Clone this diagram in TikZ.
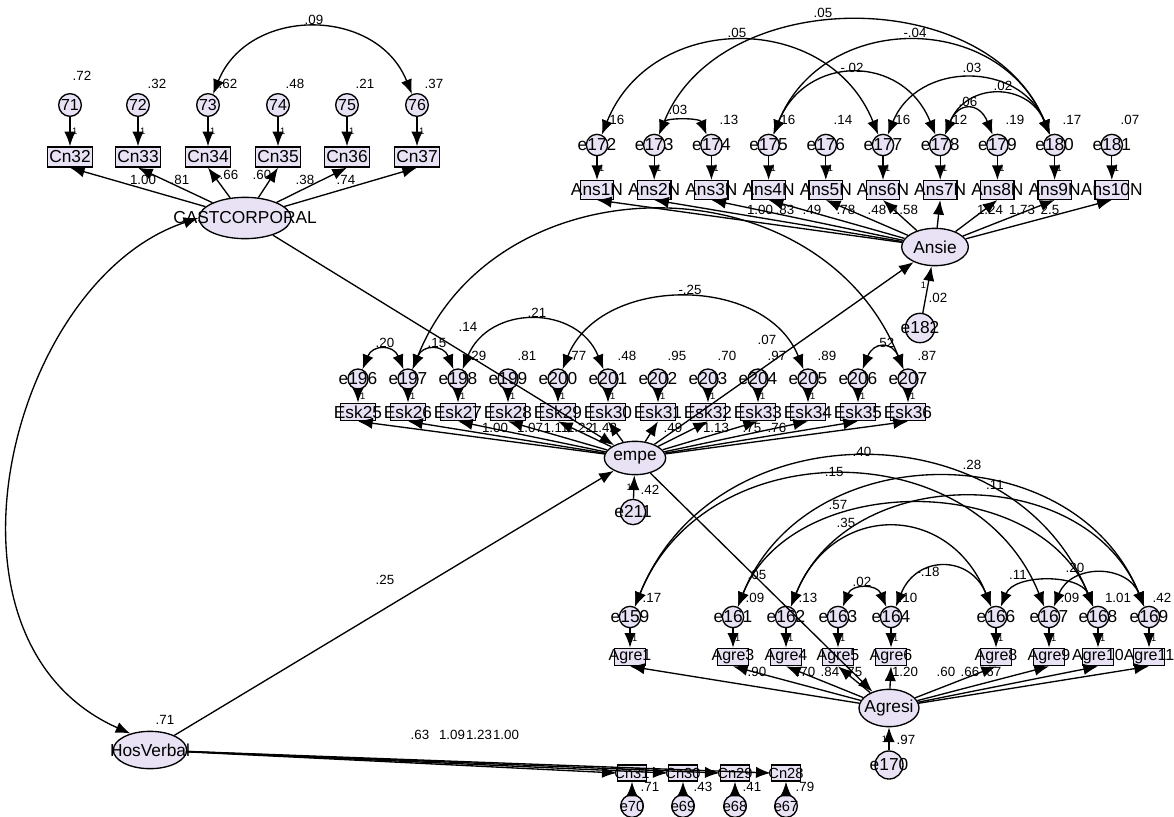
\documentclass[tikz,border=0pt]{standalone}
\usepackage{fontspec}
\setmainfont{Liberation Sans}
\usetikzlibrary{arrows.meta,shapes.geometric}
\definecolor{amos}{RGB}{232,226,244}
\newcommand{\nmfont}{\fontsize{13}{13}\selectfont}
\newcommand{\numfont}{\fontsize{10}{10}\selectfont}
\newcommand{\onefont}{\fontsize{7}{7}\selectfont}
\newcommand{\ov}[1]{\makebox[0pt]{#1}}
\tikzstyle{latent} = [draw,ellipse,fill=amos,line width=1pt,inner sep=0,font=\nmfont]
\tikzstyle{observed} = [draw,rectangle,fill=amos,line width=1pt,inner sep=0,minimum width=24pt,minimum height=14pt,font=\nmfont]
\tikzstyle{unique} = [draw,circle,fill=amos,line width=1pt,inner sep=0,minimum size=16pt,font=\nmfont]
\tikzstyle{regr} = [-{Latex[length=11pt,width=8.5pt]},line width=1pt]
\tikzstyle{cov} = [{Latex[length=11pt,width=8.5pt]}-{Latex[length=11pt,width=8.5pt]},line width=1pt]
\tikzstyle{est} = [font=\numfont,inner sep=0pt]
\tikzstyle{fixed} = [font=\onefont,inner sep=1pt]
\newcommand{\covar}[6]{\draw[cov] (#1.65) .. controls +(0.4*#3,-#3) and +(-0.4*#3,-#3) .. (#2.115); \node[est] at (#5,#6) {#4};}

\begin{document}
\begin{tikzpicture}[x=0.75pt,y=-0.75pt]
\useasboundingbox (0,0) rectangle (1174,817);

% CASTCORPORAL
\node[latent,minimum width=69pt,minimum height=31pt] (cast) at (245,218) {\ov{CASTCORPORAL}};
\foreach \i/\x in {32/70,33/138,34/208,35/278,36/347,37/417}{
  \pgfmathtruncatemacro\k{\i+39}
  \node[observed,minimum width=34pt,minimum height=15pt] (cn\i) at (\x,157) {Cn\i};
  \node[unique,minimum size=17pt,font=\fontsize{12}{12}\selectfont] (e\k) at (\x,105) {\ov{\k}};
  \draw[regr] (e\k) -- (cn\i) node[fixed,midway,right]{1};
  \draw[regr] (cast) -- (cn\i.south);
}
\foreach \k/\v/\x/\y in {71/.72/82/76,72/.32/157/84,73/.62/228/84,74/.48/295/84,75/.21/365/84,76/.37/434/84}
  \node[est] (v\k) at (\x,\y) {\v};
\foreach \v/\x/\y in {1.00/143/180,.81/180/180,.66/229/175,.60/262/175,.38/305/180,.74/346/180}
  \node[est] at (\x,\y) {\v};
\covar{e73}{e76}{88}{.09}{314}{20}

% Ansie
\node[latent,minimum width=50pt,minimum height=28pt] (ansie) at (935,247) {\ov{Ansie}};
\foreach \i in {1,...,10}{
  \pgfmathsetmacro\x{597+57.2*(\i-1)}
  \pgfmathtruncatemacro\k{171+\i}
  \node[observed,minimum width=25pt] (ans\i) at (\x,190) {\ov{Ans\i N}};
  \node[unique] (e\k) at (\x,145) {\ov{e\k}};
  \draw[regr] (e\k) -- (ans\i) node[fixed,midway,right]{1};
  \draw[regr] (ansie) -- (ans\i.south);
}
\foreach \k/\v/\x in {172/.16/615,174/.13/729,175/.16/786,176/.14/843,177/.16/901,178/.12/958,179/.19/1015,180/.17/1072,181/.07/1130}
  \node[est] (v\k) at (\x,120) {\v};
\foreach \v/\x in {1.00/760,.83/785,.49/812,.78/846,.48/877,1.58/905,1.24/990,1.73/1022,2.5/1050}
  \node[est] at (\x,210) {\v};
\covar{e173}{e174}{17}{.03}{678}{110}
\covar{e172}{e177}{124}{.05}{737}{33}
\covar{e173}{e180}{151}{.05}{823}{13}
\covar{e175}{e180}{124}{-.04}{915}{33}
\covar{e175}{e178}{81}{-.02}{852}{68}
\covar{e177}{e180}{74}{.03}{972}{68}
\covar{e178}{e180}{53}{.02}{1003}{86}
\covar{e178}{e179}{33}{.06}{968}{102}
\node[unique,minimum size=22pt] (e182) at (920,328) {\ov{e182}};
\draw[regr] (e182) -- (ansie) node[fixed,pos=0.6,left]{1};
\node[est] (v182) at (938,298) {.02};

% empe
\node[latent,minimum width=46pt,minimum height=25pt] (empe) at (635,458) {\ov{empe}};
\foreach \i in {25,...,36}{
  \pgfmathsetmacro\x{358+50*(\i-25)}
  \pgfmathtruncatemacro\k{171+\i}
  \node[observed,minimum width=26pt,minimum height=13pt] (esk\i) at (\x,412) {\ov{Esk\i}};
  \node[unique,minimum size=15pt] (e\k) at (\x,379) {\ov{e\k}};
  \draw[regr] (e\k) -- (esk\i) node[fixed,midway,right]{1};
  \draw[regr] (empe) -- (esk\i.south);
}
\foreach \k/\v/\x in {198/.29/477,199/.81/527,200/.77/577,201/.48/627,202/.95/677,203/.70/727,204/.97/777,205/.89/827,207/.87/927}
  \node[est] (v\k) at (\x,356) {\v};
\foreach \v/\x in {1.00/495,1.07/530,1.11/556,1.22/580,1.42/604,.49/673,1.13/716,.75/752,.76/777}
  \node[est] at (\x,428) {\v};
\covar{e196}{e197}{25}{.20}{385}{343}
\covar{e197}{e198}{25}{.15}{437}{343}
\covar{e198}{e201}{65}{.21}{537}{313}
\covar{e200}{e205}{95}{-.25}{690}{290}
\covar{e197}{e207}{211}{}{620}{205}
\covar{e206}{e207}{28}{.52}{885}{343}
\node[unique,minimum size=19pt] (e211) at (633,512) {\ov{e211}};
\draw[regr] (e211) -- (empe) node[fixed,pos=0.5,left]{1};
\node[est] (v211) at (650,490) {.42};

% Agresi
\node[latent,minimum width=45pt,minimum height=28pt] (agresi) at (889,708) {\ov{Agresi}};
\foreach \i/\x in {1/630,3/733,4/786,5/838,6/891,8/996,9/1049,10/1098,11/1149}{
  \pgfmathtruncatemacro\k{158+\i}
  \node[observed,minimum width=23pt,minimum height=13pt,font=\fontsize{12}{12}\selectfont] (agre\i) at (\x,657) {\ov{Agre\i}};
  \node[unique] (e\k) at (\x,617) {\ov{e\k}};
  \draw[regr] (e\k) -- (agre\i) node[fixed,midway,right]{1};
  \draw[regr] (agresi) -- (agre\i.south);
}
\foreach \k/\v/\x in {159/.17/652,161/.09/755,162/.13/808,164/.10/908,167/.09/1070,168/1.01/1118,169/.42/1162}
  \node[est] (v\k) at (\x,598) {\v};
\foreach \v/\x in {.90/757,.70/806,.84/830,.75/853,1.20/905,.60/946,.66/970,.67/992}
  \node[est] at (\x,672) {\v};
\covar{e159}{e168}{199}{.40}{862}{452}
\covar{e159}{e167}{175}{-.15}{832}{472}
\covar{e161}{e169}{172}{.28}{972}{465}
\covar{e162}{e169}{145}{.11}{995}{485}
\covar{e161}{e168}{136}{.57}{838}{505}
\covar{e162}{e166}{105}{.35}{846}{523}
\covar{e163}{e164}{23}{.02}{862}{582}
\covar{e164}{e166}{52}{-.18}{928}{572}
\covar{e166}{e168}{33}{.11}{1018}{575}
\covar{e167}{e169}{43}{.20}{1075}{568}
\node[unique,minimum size=21pt] (e170) at (889,765) {\ov{e170}};
\draw[regr] (e170) -- (agresi) node[fixed,pos=0.5,left]{1};
\node[est] (v170) at (906,740) {.97};

% HosVerbal
\node[latent,minimum width=55pt,minimum height=28pt] (hos) at (150,750) {\ov{HosVerbal}};
\node[est] (v0) at (165,720) {.71};
\foreach \i/\x/\k in {31/632/70,30/683/69,29/735/68,28/786/67}{
  \node[observed,minimum width=22pt,minimum height=12pt,font=\fontsize{11}{11}\selectfont] (cn\i) at (\x,773) {\ov{Cn\i}};
  \node[unique,minimum size=17pt,font=\fontsize{11}{11}\selectfont] (e\k) at (\x,806) {\ov{e\k}};
  \draw[regr] (e\k) -- (cn\i);
  \draw[regr] (hos) -- (cn\i.west);
}
\foreach \v/\x in {.71/650,.43/703,.41/752,.79/805}
  \node[est] at (\x,787) {\v};
\foreach \v/\x in {.63/420,1.09/452,1.23/479,1.00/506}
  \node[est] at (\x,735) {\v};

% structural part
\draw[regr] (cast) -- (empe);
\draw[regr] (hos) -- (empe);
\draw[regr] (empe) -- (ansie);
\draw[regr] (empe) -- (agresi);
\draw[cov] (cast.west) .. controls (10,280) and (-80,640) .. (hos.140);
\node[est] (b1) at (468,327) {.14};
\node[est] (b2) at (385,580) {.25};
\node[est] (b3) at (767,340) {.07};
\node[est] (b4) at (757,575) {.05};
\end{tikzpicture}
\end{document}
